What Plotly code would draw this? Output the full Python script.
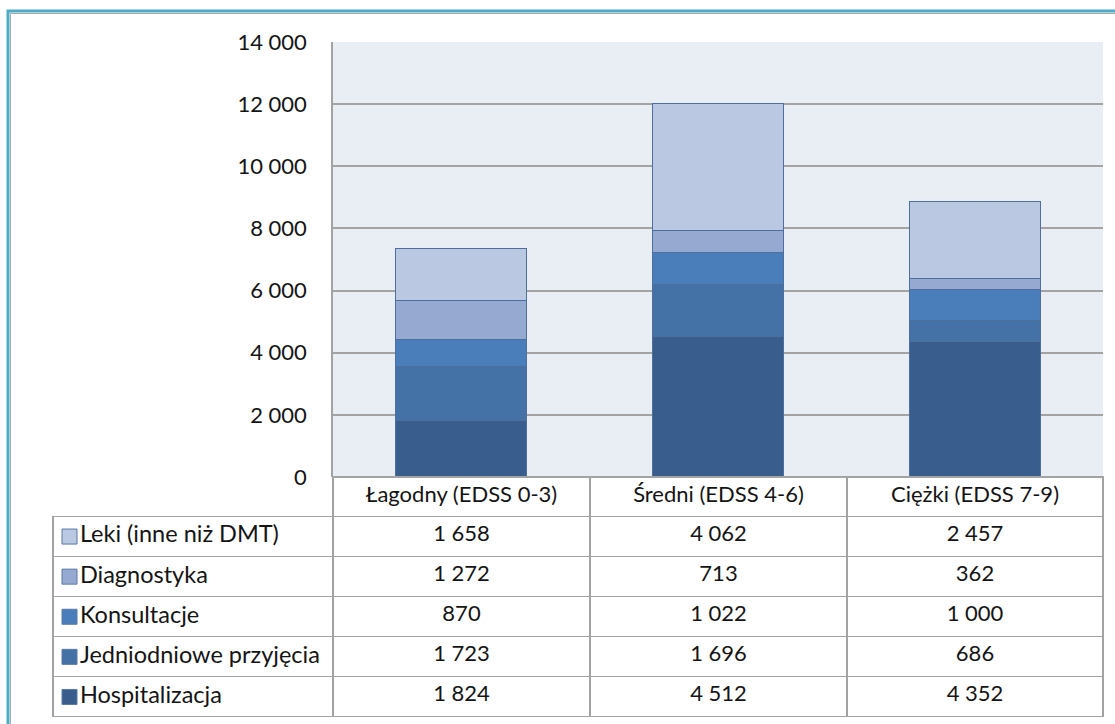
import plotly.graph_objects as go

categories = ["Łagodny (EDSS 0-3)", "Średni (EDSS 4-6)", "Ciężki (EDSS 7-9)"]
series_names = ["Leki (inne niż DMT)", "Diagnostyka", "Konsultacje",
                "Jedniodniowe przyjęcia", "Hospitalizacja"]
leki = [1658, 4062, 2457]
diagnostyka = [1272, 713, 362]
konsultacje = [870, 1022, 1000]
jedniodniowe = [1723, 1696, 686]
hospitalizacja = [1824, 4512, 4352]
y_ticks = [0, 2000, 4000, 6000, 8000, 10000, 12000, 14000]

series_values = [leki, diagnostyka, konsultacje, jedniodniowe, hospitalizacja]
colors = ["#BBC8E1", "#95A9D1", "#4A7EBB", "#4471A6", "#395E8D"]

W, H = 1115, 724
FONT = "Lato"
FS = 22
TXT = "#141414"
GRID = "#A3A3A3"
CLEAR = "rgba(0,0,0,0)"
PLOT_BG = "#E9EDF4"

def px_x(p):
    return p / W

def px_y(p):
    return 1 - p / H

plot_x = [px_x(333), px_x(1103)]
plot_y = [px_y(477), px_y(42)]
table_x = [px_x(53), px_x(1103)]
table_y = [px_y(719), px_y(477)]
label_x = [px_x(53), px_x(333)]
body_y = [px_y(717), px_y(516.5)]

fig = go.Figure()

# bars stacked bottom-to-top: Hospitalizacja ... Leki
for name, vals, col in reversed(list(zip(series_names, series_values, colors))):
    fig.add_trace(go.Bar(
        x=categories, y=vals, name=name,
        marker=dict(color=col, line=dict(color="#4E6E9E", width=1)),
        showlegend=False, hoverinfo="x+y+name",
    ))

def fmt(v):
    return f"{v:,}".replace(",", "\u00a0")

value_cols = [[fmt(series_values[s][c]) for s in range(len(series_names))]
              for c in range(len(categories))]

fig.add_trace(go.Table(
    domain=dict(x=table_x, y=table_y),
    columnwidth=[280, 257, 257, 256],
    header=dict(
        values=[""] + categories,
        align="center",
        height=39.5,
        fill=dict(color=[CLEAR, "white", "white", "white"]),
        line=dict(color=[CLEAR, GRID, GRID, GRID], width=1.5),
        font=dict(family=FONT, size=FS, color=TXT),
    ),
    cells=dict(
        values=[[""] * len(series_names)] + value_cols,
        align=["left", "center", "center", "center"],
        height=40,
        fill=dict(color=[CLEAR, "white", "white", "white"]),
        line=dict(color=GRID, width=1.5),
        font=dict(family=FONT, size=FS, color=TXT),
    ),
))

# legend keys + series names in the first table column
fig.add_trace(go.Scatter(
    x=[16.5] * len(series_names), y=series_names,
    mode="markers+text", text=series_names, textposition="middle right",
    textfont=dict(family=FONT, size=23.5, color=TXT),
    marker=dict(symbol="square", size=15, color=colors,
                line=dict(color="#5A78A6", width=1)),
    xaxis="x2", yaxis="y2", showlegend=False, hoverinfo="skip",
    cliponaxis=False,
))

fig.update_layout(
    width=W, height=H, autosize=False,
    margin=dict(l=0, r=0, t=0, b=0, autoexpand=False),
    paper_bgcolor="white",
    plot_bgcolor="white",
    barmode="stack",
    bargap=0.49,
    separators=", ",
    font=dict(family=FONT, size=FS, color=TXT),
    xaxis=dict(domain=plot_x, showticklabels=False, showgrid=False,
               zeroline=False, showline=False, ticks="",
               range=[-0.5, 2.5], fixedrange=True, automargin=False),
    yaxis=dict(domain=plot_y, range=[0, 14000], tickvals=y_ticks,
               tickformat=",d", showgrid=True, gridcolor=GRID, gridwidth=1.5,
               zeroline=True, zerolinecolor=GRID, zerolinewidth=1.5,
               showline=True, linecolor=GRID, linewidth=1.5,
               ticks="", ticklabelstandoff=20, automargin=False,
               tickfont=dict(family=FONT, size=FS, color=TXT), fixedrange=True),
    xaxis2=dict(domain=label_x, range=[0, 280], visible=False, anchor="y2",
                fixedrange=True, automargin=False),
    yaxis2=dict(domain=body_y, type="category", categoryarray=series_names,
                range=[4.5, -0.5], visible=False, fixedrange=True,
                automargin=False, anchor="x2"),
    shapes=[
        # plot-area background of the main chart only
        dict(type="rect", xref="x domain", yref="y domain",
             x0=0, x1=1, y0=0, y1=1, fillcolor=PLOT_BG,
             line=dict(width=0), layer="below"),
        # outer frame
        dict(type="rect", xref="paper", yref="paper",
             x0=px_x(10.5), x1=1.05, y0=-0.05, y1=px_y(13.5),
             line=dict(color="#A8A8A8", width=1), layer="above"),
        dict(type="rect", xref="paper", yref="paper",
             x0=px_x(8), x1=1.05, y0=-0.05, y1=px_y(11),
             line=dict(color="#4BACC6", width=3), layer="above"),
    ],
)

fig.write_html("out.html")
